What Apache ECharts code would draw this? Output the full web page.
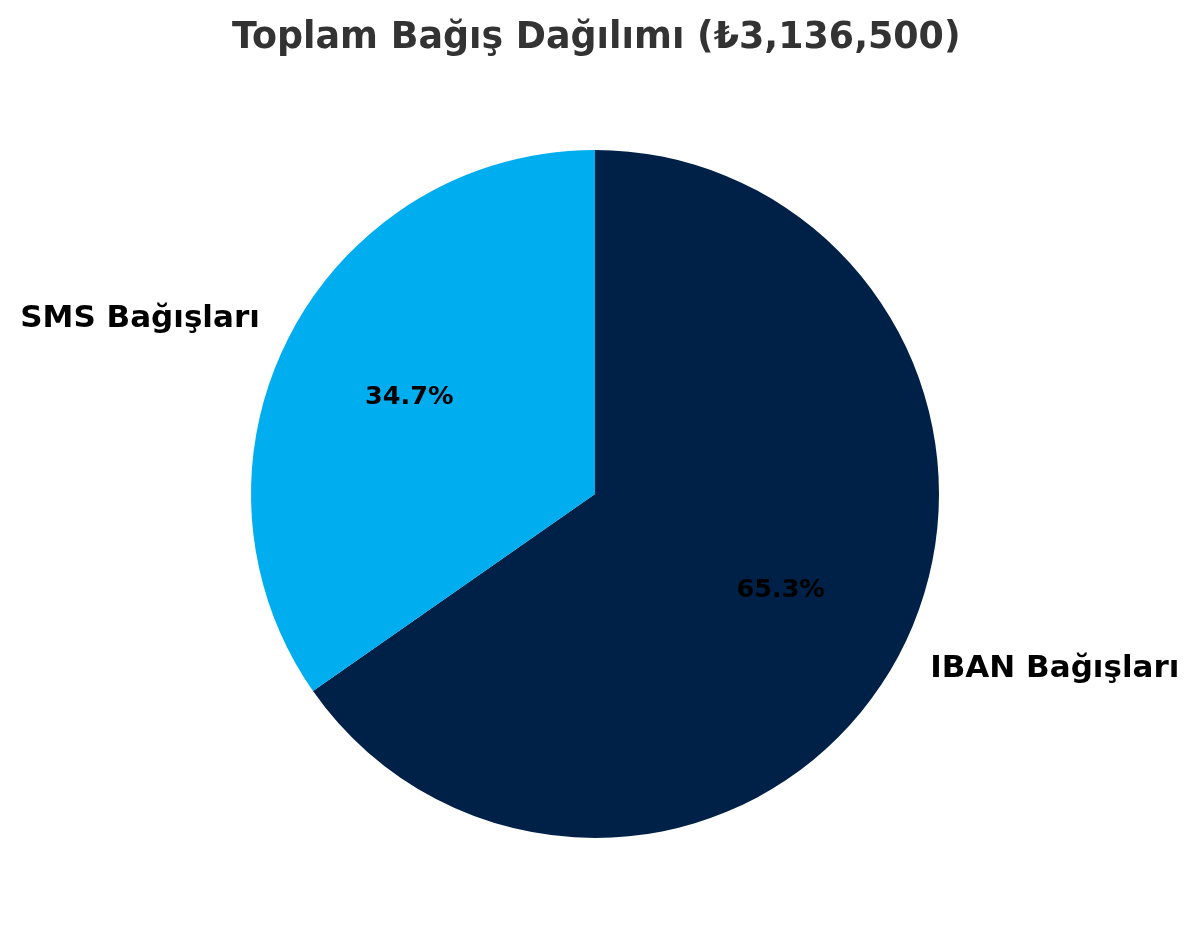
<!DOCTYPE html>
<html>
<head>
<meta charset="utf-8">
<script src="https://cdn.jsdelivr.net/npm/echarts@6/dist/echarts.min.js"></script>
<style>
html,body{margin:0;padding:0;background:#fff;}
#chart{width:1200px;height:944px;}
</style>
</head>
<body>
<div id="chart"></div>
<script>
const titleText = 'Toplam Bağış Dağılımı (₺3,136,500)';
const categories = ['IBAN Bağışları', 'SMS Bağışları'];
const values = [2048000, 1088500];
const colors = ['#002147', '#00AEEF'];

const chart = echarts.init(document.getElementById('chart'), null, {renderer: 'canvas'});
const total = values.reduce((a, b) => a + b, 0);
const data = categories.map((c, i) => ({name: c, value: values[i], itemStyle: {color: colors[i]}}));
const R = 344;
const font = 'DejaVu Sans';

chart.setOption({
  backgroundColor: '#ffffff',
  animation: false,
  title: {
    text: titleText,
    left: 227,
    top: 16,
    textStyle: {fontFamily: font, fontWeight: 'bold', fontSize: 36.4, color: '#333333'}
  },
  series: [
    {
      type: 'pie',
      center: [595, 494],
      radius: [0, R],
      startAngle: 90,
      clockwise: true,
      avoidLabelOverlap: false,
      data: data,
      label: {
        show: true,
        position: 'outside',
        formatter: '{b}',
        fontFamily: font,
        fontWeight: 'bold',
        fontSize: 31,
        color: '#000000',
        distanceToLabelLine: 0
      },
      labelLine: {show: false, length: 34, length2: 0},
      emphasis: {disabled: true}
    },
    {
      type: 'pie',
      center: [595, 494],
      radius: [R * 0.4, R * 0.8],
      startAngle: 90,
      clockwise: true,
      silent: true,
      avoidLabelOverlap: false,
      data: data.map(d => ({name: d.name, value: d.value, itemStyle: {color: 'rgba(0,0,0,0)'}})),
      label: {
        show: true,
        position: 'inside',
        formatter: p => (p.value / total * 100).toFixed(1) + '%',
        fontFamily: font,
        fontWeight: 'bold',
        fontSize: 25.5,
        color: '#000000'
      },
      labelLine: {show: false},
      emphasis: {disabled: true}
    }
  ]
});
</script>
</body>
</html>
